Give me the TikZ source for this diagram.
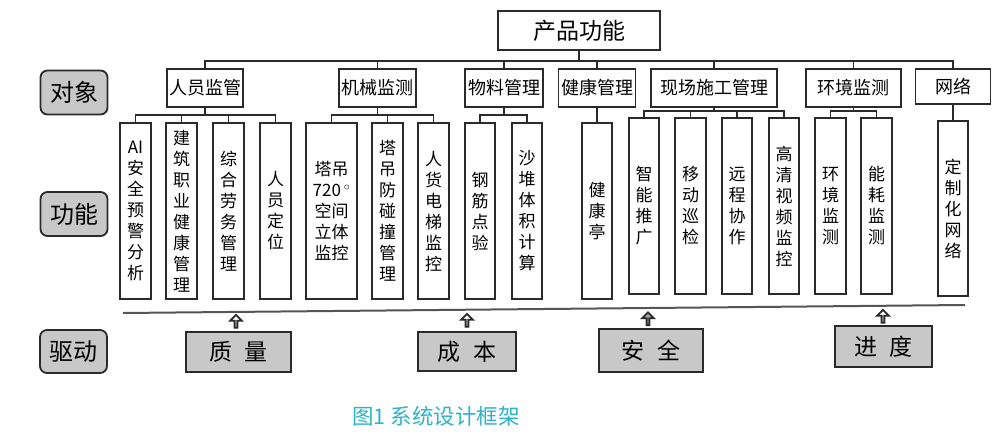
\documentclass[tikz,border=0pt]{standalone}
\usepackage{fontspec}
\setmainfont{Noto Sans CJK SC}
\usepackage{xcolor}
\usepackage{tikz}
\usetikzlibrary{shapes.arrows, positioning}
\definecolor{tagcolor}{HTML}{C8C8C8}
\definecolor{edgecolor}{HTML}{2A2A2A}
\definecolor{capcolor}{HTML}{2BB3C9}

\begin{document}
\begin{tikzpicture}[
  x=1pt, y=-1pt,
  line/.style={draw=edgecolor, line width=1.5pt},
  topbox/.style={rectangle, draw=edgecolor, line width=1.8pt, inner sep=0pt,
                 minimum width=162pt, minimum height=39pt,
                 font=\fontsize{23}{27}\selectfont},
  catbox/.style={rectangle, draw=edgecolor, line width=1.8pt, inner sep=0pt,
                 minimum height=38pt, font=\fontsize{18}{22}\selectfont},
  leaf/.style={rectangle, draw=edgecolor, line width=1.5pt, inner sep=0pt,
               minimum width=31pt, minimum height=176pt, align=center,
               font=\fontsize{17}{21}\selectfont},
  tag/.style={rectangle, rounded corners=7pt, draw=edgecolor, line width=1.8pt,
              fill=tagcolor, minimum width=67pt, minimum height=44pt,
              font=\fontsize{24}{28}\selectfont},
  drive/.style={rectangle, draw=edgecolor, line width=1.8pt, fill=tagcolor,
                minimum height=40pt, font=\fontsize{23}{27}\selectfont},
  uparrow/.style={single arrow, shape border rotate=90, draw=edgecolor,
                  line width=1.8pt, fill=white, inner sep=0pt,
                  minimum width=12pt, minimum height=13pt,
                  single arrow head extend=3pt},
]
\useasboundingbox (0,0) rectangle (1000,435);

% left tags
\node[tag] (dx) at (74,92.5)  {对象};
\node[tag] (gn) at (74,214)   {功能};
\node[tag, minimum height=43pt] (qd) at (73.5,351.5) {驱动};

% top and categories
\node[topbox] (top) at (579,30.5) {产品功能};
\node[catbox, minimum width=76pt]  (ry) at (205,88)   {人员监管};
\node[catbox, minimum width=77pt]  (jx) at (377.5,88) {机械监测};
\node[catbox, minimum width=78pt]  (wl) at (504,88)   {物料管理};
\node[catbox, minimum width=77pt]  (jk) at (597,88)   {健康管理};
\node[catbox, minimum width=126pt] (xc) at (714,88)   {现场施工管理};
\node[catbox, minimum width=95pt]  (hj) at (853.5,88) {环境监测};
\node[catbox, minimum width=75pt, minimum height=35pt] (wg) at (953,86.5) {网络};

\coordinate (bus) at (579,61);
\draw[line] (top.south) -- (bus);
\draw[line] (ry.north) |- (bus) -| (wg.north);
\draw[line] (jx.north) -- (jx.north |- bus); \draw[line] (wl.north) -- (wl.north |- bus);
\draw[line] (jk.north) -- (jk.north |- bus); \draw[line] (xc.north) -- (xc.north |- bus);
\draw[line] (hj.north) -- (hj.north |- bus);

% leaves
\node[leaf] (a1) at (135.5,211) {AI\\安\\全\\预\\警\\分\\析};
\node[leaf] (a2) at (181.5,211) {建\\筑\\职\\业\\健\\康\\管\\理};
\node[leaf] (a3) at (228.5,211) {综\\合\\劳\\务\\管\\理};
\node[leaf] (a4) at (275.5,211) {人\\员\\定\\位};
\node[leaf, minimum width=51pt] (b1) at (331.5,211) {塔吊\\720\,$^{\circ}$\\空间\\立体\\监控};
\node[leaf] (b2) at (387.5,211) {塔\\吊\\防\\碰\\撞\\管\\理};
\node[leaf] (b3) at (433.5,211) {人\\货\\电\\梯\\监\\控};
\node[leaf, minimum width=30pt] (c1) at (480,211) {钢\\筋\\点\\验};
\node[leaf, minimum width=30pt] (c2) at (527,211) {沙\\堆\\体\\积\\计\\算};
\node[leaf, minimum width=30pt] (d1) at (597,211) {健\\康\\亭};
\node[leaf, minimum width=30pt] (e1) at (644,206)   {智\\能\\推\\广};
\node[leaf] (e2) at (690.5,206) {移\\动\\巡\\检};
\node[leaf, minimum width=30pt] (e3) at (737,206)   {远\\程\\协\\作};
\node[leaf, minimum width=30pt] (e4) at (784,206)   {高\\清\\视\\频\\监\\控};
\node[leaf] (f1) at (830.5,206) {环\\境\\监\\测};
\node[leaf] (f2) at (876.5,206) {能\\耗\\监\\测};
\node[leaf, minimum width=30pt, minimum height=175pt] (g1) at (953,208.5) {定\\制\\化\\网\\络};

\coordinate (sa) at (205,115);
\draw[line] (ry.south) -- (sa);
\draw[line] (a1.north) |- (sa) -| (a4.north);
\draw[line] (a2.north) -- (a2.north |- sa); \draw[line] (a3.north) -- (a3.north |- sa);
\coordinate (sb) at (377.5,115);
\draw[line] (jx.south) -- (sb);
\draw[line] (b1.north) |- (sb) -| (b3.north);
\draw[line] (b2.north) -- (b2.north |- sb);
\coordinate (sc) at (504,115);
\draw[line] (wl.south) -- (sc);
\draw[line] (c1.north) |- (sc) -| (c2.north);
\draw[line] (jk.south) -- (d1.north);
\coordinate (se) at (714,111);
\draw[line] (xc.south) -- (se);
\draw[line] (e1.north) |- (se) -| (e4.north);
\draw[line] (e2.north) -- (e2.north |- se); \draw[line] (e3.north) -- (e3.north |- se);
\coordinate (sf) at (853.5,111);
\draw[line] (hj.south) -- (sf);
\draw[line] (f1.north) |- (sf) -| (f2.north);
\draw[line] (wg.south) -- (g1.north);

% base line and drivers
\coordinate (baseL) at (123,313);
\coordinate (baseR) at (965,305);
\draw[draw=edgecolor!80, line width=2pt] (baseL) -- (baseR);

\node[drive, minimum width=105pt] (zl) at (238.5,352) {质\hspace{0.55em}量};
\node[drive, minimum width=98pt, minimum height=39pt] (cb) at (467,351.5) {成\hspace{0.55em}本};
\node[drive, minimum width=104pt, minimum height=43pt] (aq) at (651,350.5) {安\hspace{0.55em}全};
\node[drive, minimum width=97pt, minimum height=41pt] (jd) at (883.5,346.5) {进\hspace{0.55em}度};

\node[uparrow] (ar1) at (236,322) {};
\node[uparrow] (ar2) at (467,321) {};
\node[uparrow, fill=gray!70] (ar3) at (648,319.5) {};
\node[uparrow] (ar4) at (883,317) {};

\node[font=\fontsize{21.5}{25}\selectfont, text=capcolor] (cap) at (436,416) {图1 系统设计框架};
\end{tikzpicture}
\end{document}
